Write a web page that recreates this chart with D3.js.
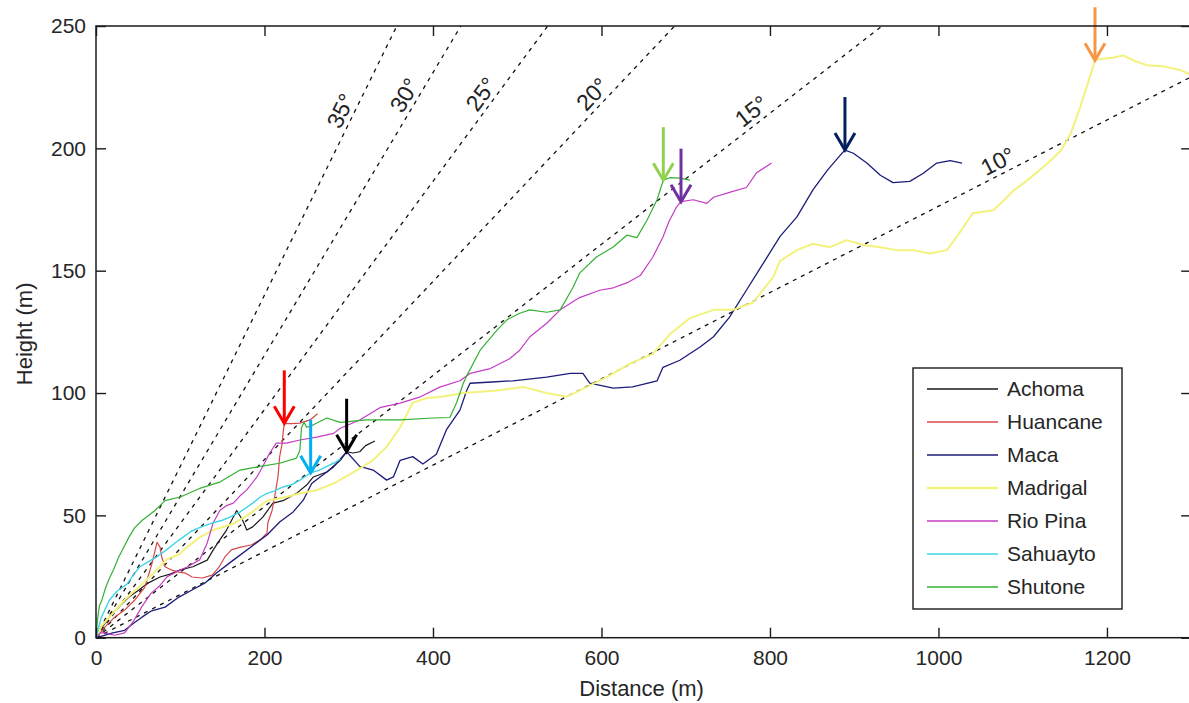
<!DOCTYPE html>
<html>
<head>
<meta charset="utf-8">
<script src="https://cdn.jsdelivr.net/npm/d3@7"></script>
<style>
  html, body { margin: 0; padding: 0; background: #fff; }
  svg { display: block; font-family: "Liberation Sans", Arial, sans-serif; }
</style>
</head>
<body>
<svg id="chart" width="1189" height="703"></svg>
<script>
(function () {
// ---------------- DATA ----------------
const xTicks = [0, 200, 400, 600, 800, 1000, 1200];
const yTicks = [0, 50, 100, 150, 200, 250];
const xLabel = "Distance (m)";
const yLabel = "Height (m)";

const rivers = ["Achoma", "Huancane", "Maca", "Madrigal", "Rio Pina", "Sahuayto", "Shutone"];

// [distance, height] profiles
const achoma = [[0,0],[4,3],[11,6],[19,10],[27,12.5],[39,16.6],[51,19.5],[60,22],[76,24.8],[88,26],[100,27.7],[115,29],[132,31.7],[139,35.8],[147,40],[155,44],[163,49.3],[167,52],[174,48],[179,44],[186,45.3],[198,49.3],[210,55],[222,56],[238,59],[250,62.4],[258,65.7],[274,67.7],[290,72.5],[297.5,76],[305,75.5],[313,76],[320,78.5],[331,80.4]];
const huancane = [[0,0],[5,2],[10.7,4.4],[22.5,8.5],[34,11.3],[46,15.4],[58,20.7],[66.5,30.4],[72.4,39],[76,37],[78,33],[82,29],[90,27.6],[98.5,26.8],[106,26.4],[114,24.8],[126,24.4],[138,25.6],[146,28.8],[153,33],[161,36],[172,37],[185,38],[195,40],[203,42.8],[204,47],[209,52],[212,57.5],[216,65.7],[218,74],[221,79.5],[222,83.5],[223.5,87.6],[232,87.5],[242,87.7],[254,89],[263,91.5]];
const maca = [[0,0],[10,1],[20,2],[34,3],[45,6],[55,8.5],[66,11],[82,12.5],[98.5,16.6],[114,19.5],[129,22.3],[143,26.4],[163,31.7],[187,37.9],[203,42],[218,47.3],[234,51.4],[246,56.2],[256,63],[266,65.7],[282,69.8],[297.5,76],[313,70],[329,68.5],[345,64.4],[353,65.7],[361,72.5],[376,74],[388,71],[404,75],[416,85],[432,93],[440,101],[444,104],[470,104.5],[495,105],[535,106.5],[563,108],[578,108],[586,104],[614,102],[637,102.5],[666,105],[673,110.5],[693,113.4],[717,118.8],[733,123],[752,131],[772,142],[792,153],[812,164],[832,172],[851,183],[868,191],[883,197],[889,199.3],[899,198],[915,194],[931,189],[946,186],[966,186.5],[982,189.8],[998,194],[1014,195],[1028,194]];
const madrigal = [[0,0],[7,5],[20,10],[34,15.4],[55,22],[70,27],[84,32],[98,34],[108,37],[123,41],[139,44],[163,46.6],[180,50],[203,56],[226,57.5],[242,59],[262,60.3],[282,63],[310,68.5],[329,72.6],[345,78],[361,86],[376,96],[393,98],[408,98.4],[436,100],[476,101],[507,102.5],[535,100],[559,98.5],[583,102.5],[606,106.5],[634,112],[661,116],[681,124],[705,130.6],[733,134],[756,134],[780,137],[804,147.5],[812,154],[832,158.4],[851,161],[871,159.6],[891,162.5],[911,160.5],[931,159.6],[951,158.4],[970,158.4],[990,157],[1010,158.4],[1022,164],[1041,173.5],[1065,174.7],[1077,178.6],[1089,182.7],[1105,186.8],[1129,193.7],[1145,199],[1157,206],[1168,216.6],[1176,225],[1185.8,236],[1192,236.5],[1207,237],[1219,238],[1231,236],[1247,234],[1267,233.5],[1287,232],[1300,230]];
const rioPina = [[0,0],[5,2],[10,2],[22,1],[34,2],[45,7],[55,13],[65,18],[75,21],[84,24.8],[96,27],[108,28.9],[123,31.8],[132,38.7],[139,46.9],[147,52],[155,54],[163,55],[171,58],[179,60.4],[191,65.7],[198,70],[206,75.4],[214,79.5],[226,79.5],[242,80.8],[262,82],[282,83.5],[290,85.6],[313,89],[337,94],[361,95.9],[384,98.3],[408,102.4],[432,105],[444,108],[468,110],[491,114],[503,117.5],[515,123],[535,128.5],[551,134],[574,139],[598,142],[614,143],[630,145],[646,148],[661,155.6],[673,163.8],[680,170],[689,176],[694.4,178.2],[709,179],[725,177.5],[733,180],[752,182],[772,184],[784,190],[802,194]];
const sahuayto = [[0,0],[3,4],[6,8],[10,11],[16,15.4],[25,19],[37,22],[45,26],[52,29],[62,31],[72,33],[84,36],[95,39],[103,41],[113,43.5],[123,45],[139,47],[150,48],[159,49.3],[171,51.4],[186,55],[195,57.5],[203,59],[212,60],[222,61.6],[232,62.5],[242,64.4],[254.8,67.4],[265,68.5],[274,70],[283,71.5],[290,73]];
const shutone = [[0,0],[2,8],[4,13],[7,15.4],[11,20],[15,23.6],[21,28],[27,33],[33,37],[39,41],[46,45],[55,48],[70,52],[82,56],[100,57.5],[123,61],[147,63.6],[171,68.5],[195,70],[218,71.3],[238,73.4],[242,76.6],[244,86],[247,88],[250,86],[258,87],[274,89.8],[290,88],[321,89],[361,89],[400,89.8],[420,90],[428,96],[436,104],[440,107],[456,117.5],[476,125.7],[488,130],[503,132.6],[515,134],[535,133],[551,134],[566,143],[574,149],[594,155.6],[614,159.7],[630,164.5],[642,163.5],[654,170.6],[666,179],[673.4,187],[681,188],[693,187.8],[705,187]];
const profiles = [achoma, huancane, maca, madrigal, rioPina, sahuayto, shutone];

// reference slope lines (degrees) and where their labels sit (height, m)
const slopeAngles = [35, 30, 25, 20, 15, 10];
const slopeLabelHeight = [213, 219, 219, 218.5, 211, 190];

// arrows marking a point of each profile
const arrowDist   = [223.5, 254.8, 297.5, 673.4, 694.4, 889, 1185.8];
const arrowHeight = [87.6, 67.4, 76, 187, 178.2, 199.3, 236];

// ---------------- STYLE ----------------
const riverColors = ["#1a1a1a", "#d64848", "#1c1c7a", "#f2f27c", "#c43cc4", "#3ed6e6", "#34b034"];
const riverWidths = [1.2, 1.2, 1.3, 2.0, 1.2, 1.4, 1.2];
const arrowColors = ["#ff0000", "#00b0f0", "#000000", "#92d050", "#7030a0", "#002060", "#f79646"];

const mg = { left: 96, top: 26, right: 1191.2, bottom: 637.7 };
const fontSize = 21;
const textColor = "#262626";

const svg = d3.select("#chart");
const x = d3.scaleLinear().domain([0, 1300]).range([mg.left, mg.right]);
const y = d3.scaleLinear().domain([0, 250]).range([mg.bottom, mg.top]);

svg.append("defs").append("clipPath").attr("id", "plotclip")
  .append("rect").attr("x", mg.left).attr("y", mg.top)
  .attr("width", mg.right - mg.left).attr("height", mg.bottom - mg.top);

const plot = svg.append("g").attr("clip-path", "url(#plotclip)");

// slope reference lines
slopeAngles.forEach((deg) => {
  const t = Math.tan(deg * Math.PI / 180);
  let xe = 1300, ye = 1300 * t;
  if (ye > 250) { ye = 250; xe = 250 / t; }
  plot.append("line")
    .attr("x1", x(0)).attr("y1", y(0)).attr("x2", x(xe)).attr("y2", y(ye))
    .attr("stroke", "#111").attr("stroke-width", 1.3)
    .attr("stroke-dasharray", "4,5");
});

// profiles
const line = d3.line().x(d => x(d[0])).y(d => y(d[1]));
profiles.forEach((p, i) => {
  plot.append("path").datum(p)
    .attr("d", line)
    .attr("fill", "none")
    .attr("stroke", riverColors[i])
    .attr("stroke-width", riverWidths[i])
    .attr("stroke-linejoin", "round");
});

// slope labels
slopeAngles.forEach((deg, i) => {
  const t = Math.tan(deg * Math.PI / 180);
  const h = slopeLabelHeight[i];
  const px = x(h / t), py = y(h);
  const dx = x(h / t) - x(0), dy = y(h) - y(0);
  const ang = Math.atan2(dy, dx);
  const len = Math.hypot(dx, dy);
  const ux = dx / len, uy = dy / len;
  const nx = uy, ny = -ux;
  const off = 13;
  svg.append("text")
    .attr("transform", `translate(${px + nx * off},${py + ny * off}) rotate(${ang * 180 / Math.PI})`)
    .attr("text-anchor", "middle")
    .attr("dy", "0.35em")
    .attr("font-size", 23)
    .attr("fill", "#222")
    .text(deg + "°");
});

// arrows
const arrowLen = 53, headW = 10, headH = 17;
arrowDist.forEach((d, i) => {
  const tx = x(d), ty = y(arrowHeight[i]);
  const g = svg.append("g").attr("stroke", arrowColors[i]).attr("stroke-width", 3)
    .attr("fill", "none").attr("stroke-linecap", "butt");
  g.append("line").attr("x1", tx).attr("y1", ty - arrowLen).attr("x2", tx).attr("y2", ty - 1);
  g.append("path").attr("d", `M${tx - headW},${ty - headH} L${tx},${ty} L${tx + headW},${ty - headH}`)
    .attr("stroke-linejoin", "miter");
});

// axes
const fmt = d3.format("d");
const axG = svg.append("g");
const axBottom = axG.append("g").attr("transform", `translate(0,${mg.bottom})`)
  .call(d3.axisBottom(x).tickValues(xTicks).tickFormat(fmt).tickSizeInner(-10).tickSizeOuter(0).tickPadding(12));
const axLeft = axG.append("g").attr("transform", `translate(${mg.left},0)`)
  .call(d3.axisLeft(y).tickValues(yTicks).tickFormat(fmt).tickSizeInner(-10).tickSizeOuter(0).tickPadding(10));
const axTop = axG.append("g").attr("transform", `translate(0,${mg.top})`)
  .call(d3.axisTop(x).tickValues(xTicks).tickSizeInner(-10).tickSizeOuter(0).tickFormat(""));
const axRight = axG.append("g").attr("transform", `translate(${mg.right},0)`)
  .call(d3.axisRight(y).tickValues(yTicks).tickSizeInner(-10).tickSizeOuter(0).tickFormat(""));
[axBottom, axLeft, axTop, axRight].forEach(a => {
  a.select(".domain").remove();
  a.selectAll(".tick line").attr("stroke", "#1a1a1a").attr("stroke-width", 1.4);
  a.selectAll(".tick text").attr("font-size", fontSize).attr("fill", textColor)
    .attr("font-family", "'Liberation Sans', Arial, sans-serif");
});
svg.append("rect").attr("x", mg.left).attr("y", mg.top)
  .attr("width", mg.right - mg.left).attr("height", mg.bottom - mg.top)
  .attr("fill", "none").attr("stroke", "#1a1a1a").attr("stroke-width", 1.5);

// axis labels
svg.append("text").attr("x", (mg.left + mg.right) / 2 - 2).attr("y", 696)
  .attr("text-anchor", "middle").attr("font-size", 22).attr("fill", textColor).text(xLabel);
svg.append("text").attr("transform", `translate(32,${(mg.top + mg.bottom) / 2 + 2}) rotate(-90)`)
  .attr("text-anchor", "middle").attr("font-size", 22).attr("fill", textColor).text(yLabel);

// legend
const lg = { x: 913, y: 368, w: 209, h: 241, rowH: 33, first: 389 };
const legend = svg.append("g");
legend.append("rect").attr("x", lg.x).attr("y", lg.y).attr("width", lg.w).attr("height", lg.h)
  .attr("fill", "#fff").attr("stroke", "#1a1a1a").attr("stroke-width", 1.4);
rivers.forEach((r, i) => {
  const yy = lg.first + i * lg.rowH;
  legend.append("line").attr("x1", 927).attr("x2", 998).attr("y1", yy).attr("y2", yy)
    .attr("stroke", riverColors[i]).attr("stroke-width", riverWidths[i] + 0.3);
  legend.append("text").attr("x", 1007).attr("y", yy).attr("dy", "0.35em")
    .attr("font-size", fontSize).attr("fill", textColor).text(r);
});
})();
</script>
</body>
</html>
